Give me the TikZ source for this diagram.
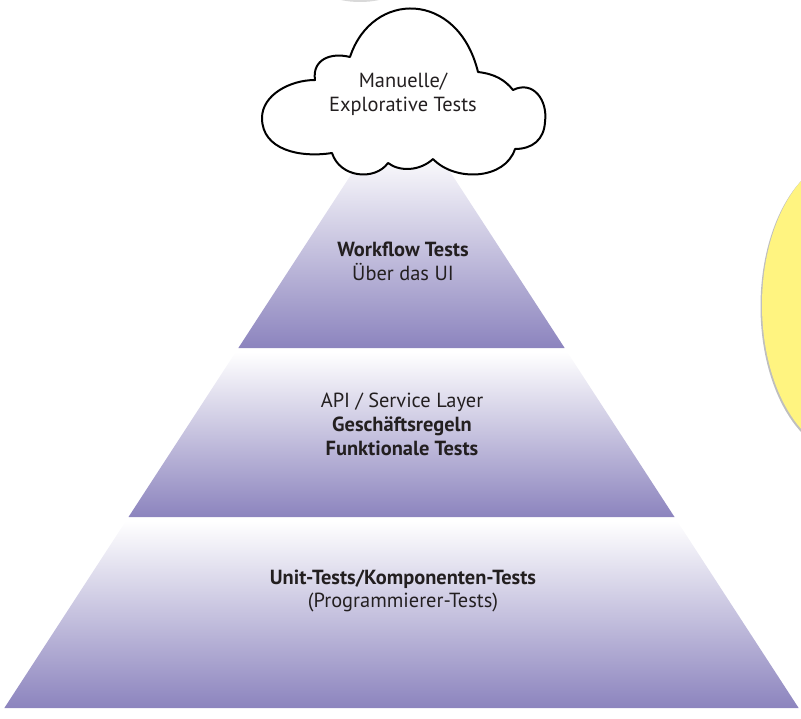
\documentclass[tikz,border=0pt]{standalone}
\usepackage{fontspec}
\setmainfont{PT Sans}
\definecolor{pyrpurple}{RGB}{140,132,190}
\definecolor{noteyellow}{RGB}{255,244,128}
\definecolor{textgrey}{RGB}{35,31,32}
\tikzset{
  lbl/.style={text=textgrey, align=center, inner sep=0pt,
    font=\fontsize{20.5}{24}\selectfont},
  band/.style={top color=white, bottom color=pyrpurple, draw=none}
}
\begin{document}
\begin{tikzpicture}[x=1bp, y=-1bp, line cap=round, line join=round]
        \useasboundingbox (0,0) rectangle (801,719);
        % parameters
        \def\ax{401.5} % apex of the pyramid, x
        \def\ay{97}    % apex of the pyramid, y
        \def\sl{0.65}  % half width per unit of height

        % grey shape cut by the top edge
        \fill[black!15] (360,-22) ellipse (48 and 24);

        % yellow note at the right edge
        \fill[black!25] (848.5,306.5) ellipse (88 and 149);
        \fill[noteyellow] (850,305) ellipse (88 and 149);

        % pyramid bands: white on top, purple at the bottom
        \foreach \t/\b in {150/348, 352/517, 521/708}{
            \pgfmathsetmacro{\wt}{(\t-\ay)*\sl}
            \pgfmathsetmacro{\wb}{(\b-\ay)*\sl}
            \shade[band] (\ax-\wt,\t) -- (\ax+\wt,\t) -- (\ax+\wb,\b) -- (\ax-\wb,\b) -- cycle;
        }

        % cloud on the top
        \draw[line width=2, fill=white] (315,80)
            .. controls (312,60) and (330,52) .. (350,57)
            .. controls (372,-10) and (458,-10) .. (478,72)
            .. controls (495,74) and (505,80) .. (513,90)
            .. controls (533,80) and (548,100) .. (545,122)
            .. controls (544,140) and (532,149) .. (515,149)
            .. controls (505,180) and (455,182) .. (433,159)
            .. controls (420,171) and (400,172) .. (388,163)
            .. controls (375,181) and (340,178) .. (332,153)
            .. controls (300,158) and (262,150) .. (262,118)
            .. controls (262,95) and (290,80) .. (315,80) -- cycle;

        % labels
        \node[lbl] (manual) at (403,94) {Manuelle/\\Explorative Tests};
        \node[lbl] (workflow) at (403,261) {\textbf{Workflow Tests}\\Über das UI};
        \node[lbl] (service) at (402,424) {API / Service Layer\\\textbf{Geschäftsregeln}\\\textbf{Funktionale Tests}};
        \node[lbl] (unit) at (403,591) {\textbf{Unit-Tests/Komponenten-Tests}\\(Programmierer-Tests)};
\end{tikzpicture}
\end{document}
